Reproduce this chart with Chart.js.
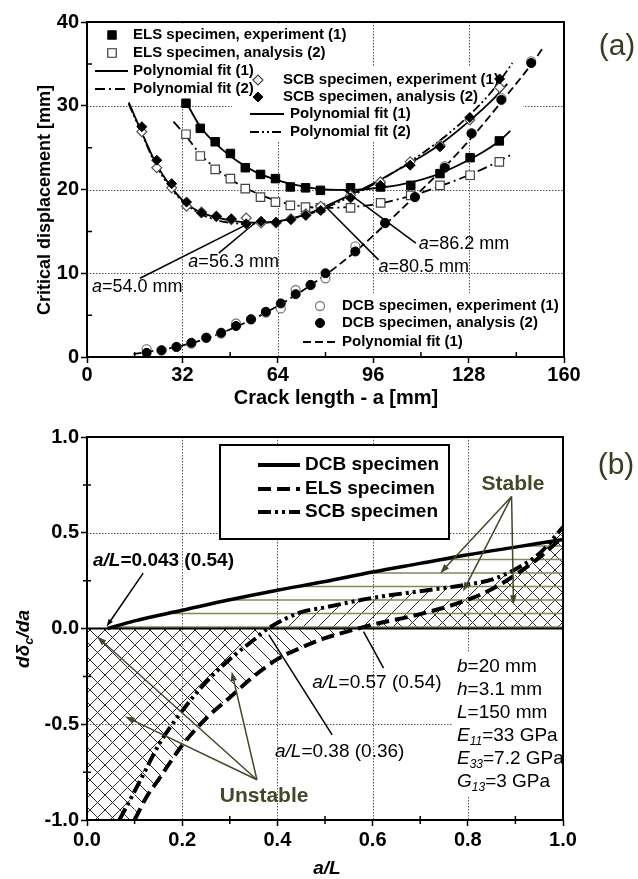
<!DOCTYPE html>
<html>
<head>
<meta charset="utf-8">
<script src="https://cdn.jsdelivr.net/npm/chart.js@4.4.0/dist/chart.umd.min.js"></script>
<style>
  html, body { margin: 0; padding: 0; background: #fff; }
  #wrap { position: relative; width: 638px; height: 879px; }
  canvas { position: absolute; left: 0; }
  #chartA { top: 0; }
  #chartB { top: 420px; }
</style>
</head>
<body>
<div id="wrap">
  <canvas id="chartA" width="638" height="420"></canvas>
  <canvas id="chartB" width="638" height="459"></canvas>
</div>
<script>
// ---- (a) critical displacement [mm] vs crack length a [mm] ----
const elsCrack = [33.2, 38.0, 43.0, 48.1, 53.1, 58.2, 63.2, 68.2, 73.3, 78.3, 88.4, 98.5, 108.6, 118.4, 128.5, 138.3];
const elsExp   = [30.3, 27.3, 25.7, 24.3, 22.6, 21.8, 21.3, 20.3, 20.2, 19.9, 20.2, 20.3, 20.5, 21.9, 23.8, 25.8];
const elsAna   = [26.6, 24.0, 22.4, 21.3, 20.1, 19.1, 18.5, 18.1, 17.9, 17.8, 17.8, 18.4, 19.3, 20.5, 21.7, 23.3];

const scbCrack = [18.4, 23.4, 28.4, 33.4, 38.4, 43.4, 48.4, 53.4, 58.4, 63.4, 68.4, 73.4, 78.4, 88.4, 98.4, 108.4, 118.4, 128.4, 138.4];
const scbExp   = [26.9, 22.6, 20.2, 18.0, 17.3, 16.8, 16.4, 16.6, 16.0, 16.0, 16.5, 17.1, 18.0, 19.3, 20.9, 23.3, 25.3, 28.3, 32.2];
const scbAna   = [27.5, 23.5, 20.7, 18.5, 17.2, 16.8, 16.5, 15.9, 16.2, 16.1, 16.4, 16.9, 17.5, 19.0, 20.5, 22.9, 25.1, 28.6, 33.2];

const dcbCrack = [20, 25, 30, 35, 40, 45, 50, 55, 60, 65, 70, 75, 80, 90, 100, 110, 120, 129, 139, 149];
const dcbExp   = [0.95, 0.8, 1.2, 1.6, 2.3, 2.8, 4.0, 4.5, 5.3, 5.8, 8.0, 8.6, 9.4, 13.2, 16.0, 19.1, 22.8, 26.7, 30.9, 35.3];
const dcbAna   = [0.5, 0.8, 1.2, 1.7, 2.3, 2.9, 3.7, 4.5, 5.4, 6.4, 7.5, 8.6, 10.0, 12.6, 16.0, 19.1, 22.6, 26.7, 30.7, 35.1];

// polynomial fits
const elsFit1X = [33, 38, 44, 50, 56, 64, 72, 80, 86, 92, 100, 108, 116, 124, 132, 138, 142];
const elsFit1Y = [30.6, 27.5, 25.2, 23.5, 22.2, 21.1, 20.4, 20.0, 19.95, 20.0, 20.3, 20.8, 21.6, 22.8, 24.3, 25.7, 27.0];
const elsFit2X = [29, 33, 38, 44, 50, 56, 64, 72, 80, 88, 96, 104, 112, 120, 128, 136, 142];
const elsFit2Y = [28.1, 26.5, 24.2, 22.3, 20.8, 19.7, 18.6, 18.0, 17.8, 17.9, 18.2, 18.8, 19.6, 20.6, 21.7, 23.0, 24.1];
const scbFit1X = [14, 18, 23, 28, 33, 38, 44, 50, 56, 62, 68, 74, 80, 88, 96, 104, 112, 120, 128, 136, 141];
const scbFit1Y = [30.4, 27.1, 23.2, 20.4, 18.4, 17.3, 16.6, 16.2, 16.05, 16.1, 16.5, 17.1, 18.0, 19.3, 20.7, 22.3, 23.9, 25.8, 28.1, 30.7, 32.6];
const scbFit2X = [14, 18, 23, 28, 33, 38, 44, 50, 54, 60, 68, 74, 80, 88, 96, 104, 112, 120, 128, 136, 142.7];
const scbFit2Y = [30.2, 27.0, 23.0, 20.2, 18.3, 17.1, 16.3, 15.95, 15.9, 16.05, 16.45, 17.0, 17.8, 19.1, 20.6, 22.3, 24.2, 26.3, 28.8, 31.8, 35.1];
const dcbFitX  = [15.6, 20, 30, 40, 50, 60, 70, 80, 90, 100, 110, 120, 130, 140, 150, 153.3];
const dcbFitY  = [0.35, 0.6, 1.2, 2.2, 3.6, 5.3, 7.4, 9.8, 12.6, 15.8, 19.2, 22.7, 26.6, 30.9, 35.4, 37.1];

// ---- (b) d(delta_c)/da vs a/L ----
const dcbRatio = [0.043, 0.1, 0.2, 0.3, 0.4, 0.5, 0.6, 0.7, 0.8, 0.9, 1.0];
const dcbSlope = [0, 0.04, 0.095, 0.15, 0.2, 0.245, 0.295, 0.34, 0.385, 0.425, 0.465];
const elsRatio = [0.1, 0.125, 0.15, 0.2, 0.25, 0.3, 0.35, 0.4, 0.45, 0.5, 0.57, 0.6, 0.7, 0.8, 0.85, 0.9, 0.95, 1.0];
const elsSlope = [-1.0, -0.88, -0.79, -0.61, -0.47, -0.36, -0.25, -0.16, -0.10, -0.05, 0, 0.02, 0.075, 0.15, 0.205, 0.28, 0.37, 0.48];
const scbRatio = [0.068, 0.1, 0.125, 0.15, 0.2, 0.25, 0.3, 0.35, 0.38, 0.45, 0.5, 0.6, 0.7, 0.8, 0.85, 0.9, 0.95, 1.0];
const scbSlope = [-1.0, -0.85, -0.73, -0.61, -0.43, -0.28, -0.16, -0.06, 0, 0.085, 0.11, 0.16, 0.195, 0.23, 0.255, 0.31, 0.39, 0.53];

const FONT = '"Liberation Sans", Arial, Helvetica, sans-serif';
const OLIVE = '#46462a';
Chart.defaults.font.family = FONT;
Chart.defaults.color = '#000';

function pts(xs, ys) {
    return xs.map((x, i) => ({ x: x, y: ys[i] }));
}

function richText(ctx, parts, x, y, align) {
    let w = 0;
    parts.forEach(p => { ctx.font = p[1]; w += ctx.measureText(p[0]).width; });
    let cx = align === 'center' ? x - w / 2 : (align === 'right' ? x - w : x);
    ctx.textAlign = 'left';
    ctx.textBaseline = 'middle';
    parts.forEach(p => {
        ctx.font = p[1];
        ctx.fillText(p[0], cx, y + (p[2] || 0));
        cx += ctx.measureText(p[0]).width;
    });
}

function arrow(ctx, x1, y1, x2, y2, color, lw, head) {
    ctx.save();
    ctx.strokeStyle = color;
    ctx.fillStyle = color;
    ctx.lineWidth = lw;
    const a = Math.atan2(y2 - y1, x2 - x1);
    ctx.beginPath();
    ctx.moveTo(x1, y1);
    ctx.lineTo(x2 - Math.cos(a) * head * 0.7, y2 - Math.sin(a) * head * 0.7);
    ctx.stroke();
    if (head > 0) {
        ctx.beginPath();
        ctx.moveTo(x2, y2);
        ctx.lineTo(x2 - head * Math.cos(a - 0.33), y2 - head * Math.sin(a - 0.33));
        ctx.lineTo(x2 - head * Math.cos(a + 0.33), y2 - head * Math.sin(a + 0.33));
        ctx.closePath();
        ctx.fill();
    }
    ctx.restore();
}

function dottedGrid(chart, skipY) {
    const { ctx, chartArea: a, scales: { x, y } } = chart;
    ctx.save();
    ctx.strokeStyle = '#555';
    ctx.lineWidth = 1;
    ctx.setLineDash([1.5, 1.5]);
    ctx.beginPath();
    x.ticks.forEach((t, i) => {
        if (i === 0 || i === x.ticks.length - 1) return;
        const p = Math.round(x.getPixelForValue(t.value)) + 0.5;
        ctx.moveTo(p, a.top); ctx.lineTo(p, a.bottom);
    });
    y.ticks.forEach((t, i) => {
        if (i === 0 || i === y.ticks.length - 1 || skipY.includes(t.value)) return;
        const p = Math.round(y.getPixelForValue(t.value)) + 0.5;
        ctx.moveTo(a.left, p); ctx.lineTo(a.right, p);
    });
    ctx.stroke();
    ctx.restore();
}

function minorTicks(chart, xs, ys, up, down) {
    const { ctx, chartArea: a, scales: { x, y } } = chart;
    ctx.save();
    ctx.strokeStyle = '#000';
    ctx.lineWidth = 1.5;
    ctx.beginPath();
    xs.forEach(v => { const p = x.getPixelForValue(v); ctx.moveTo(p, a.bottom - up); ctx.lineTo(p, a.bottom + down); });
    ys.forEach(v => { const p = y.getPixelForValue(v); ctx.moveTo(a.left - down, p); ctx.lineTo(a.left + up, p); });
    ctx.stroke();
    ctx.restore();
}

function frame(chart) {
    const { ctx, chartArea: a } = chart;
    ctx.save();
    ctx.strokeStyle = '#000';
    ctx.lineWidth = 2;
    ctx.strokeRect(a.left, a.top, a.right - a.left, a.bottom - a.top);
    ctx.restore();
}

function sym(ctx, style, r, x, y, fill, stroke, bw) {
    ctx.save();
    ctx.fillStyle = fill;
    ctx.strokeStyle = stroke;
    ctx.lineWidth = bw;
    Chart.helpers.drawPoint(ctx, { pointStyle: style, radius: r, rotation: 0, borderWidth: bw }, x, y);
    ctx.restore();
}

function sample(ctx, x1, x2, y, dash, lw) {
    ctx.save();
    ctx.strokeStyle = '#000';
    ctx.lineWidth = lw;
    ctx.setLineDash(dash);
    ctx.beginPath();
    ctx.moveTo(x1, y);
    ctx.lineTo(x2, y);
    ctx.stroke();
    ctx.restore();
}

function label(ctx, text, x, y, font, color) {
    ctx.save();
    ctx.font = font;
    ctx.fillStyle = color || '#000';
    ctx.textAlign = 'left';
    ctx.textBaseline = 'middle';
    ctx.fillText(text, x, y);
    ctx.restore();
}

function makeHatch(ctx, kind) {
    const c = document.createElement('canvas');
    if (kind === '-') {
        c.width = 8; c.height = 27;
        const g = c.getContext('2d');
        g.strokeStyle = '#86865c';
        g.lineWidth = 1.3;
        g.beginPath();
        g.moveTo(0, 4.5); g.lineTo(8, 4.5);
        g.moveTo(0, 18); g.lineTo(8, 18);
        g.stroke();
    } else {
        const s = 15;
        c.width = s; c.height = s;
        const g = c.getContext('2d');
        g.strokeStyle = '#2a2a2a';
        g.lineWidth = 1;
        g.beginPath();
        for (let k = -1; k <= 1; k++) {
            if (kind === '/') { g.moveTo(k * s, s); g.lineTo(k * s + s, 0); }
            else { g.moveTo(k * s, 0); g.lineTo(k * s + s, s); }
        }
        g.stroke();
    }
    return ctx.createPattern(c, 'repeat');
}

const tickFont = { size: 20, weight: 'bold' };

// ================= panel (a) =================
const panelA = {
    id: 'panelA',
    beforeDatasetsDraw(chart) {
        const ctx = chart.ctx;
        dottedGrid(chart, []);
        ctx.save();
        ctx.fillStyle = '#fff';
        ctx.fillRect(88, 24, 264, 76);
        ctx.fillRect(232, 67, 291, 75);
        ctx.fillRect(298, 293, 265, 63);
        ctx.restore();

        const f = 'bold 15px ' + FONT;
        // ELS legend
        sym(ctx, 'rect', 6, 112, 35, '#000', '#000', 1);
        sym(ctx, 'rect', 6, 112, 53, '#fff', '#333', 1.2);
        sample(ctx, 95, 128, 71, [], 1.8);
        sample(ctx, 95, 128, 89, [10, 4, 2, 4], 1.8);
        label(ctx, 'ELS specimen, experiment (1)', 133, 35, f);
        label(ctx, 'ELS specimen, analysis (2)', 133, 53, f);
        label(ctx, 'Polynomial fit (1)', 133, 71, f);
        label(ctx, 'Polynomial fit (2)', 133, 89, f);
        // SCB legend
        sym(ctx, 'rectRot', 5, 258, 80, '#fff', '#444', 1.2);
        sym(ctx, 'rectRot', 5, 258, 97, '#000', '#000', 1);
        sample(ctx, 250, 284, 114, [], 1.8);
        sample(ctx, 250, 284, 132, [9, 3, 2, 3, 2, 3], 1.8);
        label(ctx, 'SCB specimen, experiment (1)', 283, 80, f);
        label(ctx, 'SCB specimen, analysis (2)', 283, 97, f);
        label(ctx, 'Polynomial fit (1)', 290, 114, f);
        label(ctx, 'Polynomial fit (2)', 290, 132, f);
        // DCB legend
        sym(ctx, 'circle', 4.5, 320, 306, '#fff', '#808080', 1.3);
        sym(ctx, 'circle', 4.5, 320, 323, '#000', '#000', 1);
        sample(ctx, 303, 338, 342, [8, 4], 1.8);
        label(ctx, 'DCB specimen, experiment (1)', 342, 306, f);
        label(ctx, 'DCB specimen, analysis (2)', 342, 323, f);
        label(ctx, 'Polynomial fit (1)', 342, 342, f);
    },
    afterDatasetsDraw(chart) {
        const { ctx, scales: { x, y } } = chart;
        frame(chart);
        minorTicks(chart, [16, 48, 80, 112, 144], [5, 15, 25, 35], 5, 0);

        const P = (vx, vy) => [x.getPixelForValue(vx), y.getPixelForValue(vy)];
        const it = 'italic 18px ' + FONT, rg = '18px ' + FONT;
        const callouts = [
            { from: [54.0, 15.9], to: [17.8, 9.4], at: [1.7, 8.4], txt: '=54.0 mm' },
            { from: [56.3, 16.0], to: [44.2, 12.4], at: [34.0, 11.3], txt: '=56.3 mm' },
            { from: [86.2, 19.95], to: [110.3, 13.6], at: [111.3, 13.5], txt: '=86.2 mm' },
            { from: [80.5, 17.8], to: [97.8, 11.6], at: [97.8, 10.75], txt: '=80.5 mm' }
        ];
        ctx.save();
        ctx.fillStyle = '#000';
        callouts.forEach(c => {
            const a = P(c.from[0], c.from[1]), b = P(c.to[0], c.to[1]), t = P(c.at[0], c.at[1]);
            arrow(ctx, b[0], b[1], a[0], a[1], '#000', 1.5, 0);
            richText(ctx, [['a', it], [c.txt, rg]], t[0], t[1], 'left');
        });
        ctx.restore();

        // axis titles and panel tag
        ctx.save();
        ctx.fillStyle = '#000';
        richText(ctx, [['Crack length - a [mm]', 'bold 20px ' + FONT]], 336, 398, 'center');
        ctx.translate(45, 200);
        ctx.rotate(-Math.PI / 2);
        richText(ctx, [['Critical displacement [mm]', 'bold 18px ' + FONT]], 0, 0, 'center');
        ctx.restore();
        ctx.save();
        ctx.fillStyle = '#3a3a22';
        richText(ctx, [['(a)', '30px ' + FONT]], 617, 47, 'center');
        ctx.restore();
    }
};

const lineBase = { pointRadius: 0, pointHoverRadius: 0, borderColor: '#000', borderWidth: 1.8, cubicInterpolationMode: 'monotone', fill: false };
const markBase = { showLine: false, borderColor: '#000' };

new Chart(document.getElementById('chartA').getContext('2d'), {
    type: 'line',
    data: {
        datasets: [
            Object.assign({}, markBase, { data: pts(dcbCrack, dcbAna), pointStyle: 'circle', pointRadius: 4.5, pointBackgroundColor: '#000', pointBorderColor: '#000', pointBorderWidth: 1 }),
            Object.assign({}, markBase, { data: pts(dcbCrack, dcbExp), pointStyle: 'circle', pointRadius: 4.5, pointBackgroundColor: '#fff', pointBorderColor: '#808080', pointBorderWidth: 1.3 }),
            Object.assign({}, markBase, { data: pts(scbCrack, scbAna), pointStyle: 'rectRot', pointRadius: 5, pointBackgroundColor: '#000', pointBorderColor: '#000', pointBorderWidth: 1 }),
            Object.assign({}, markBase, { data: pts(scbCrack, scbExp), pointStyle: 'rectRot', pointRadius: 5, pointBackgroundColor: '#fff', pointBorderColor: '#555', pointBorderWidth: 1.2 }),
            Object.assign({}, markBase, { data: pts(elsCrack, elsExp), pointStyle: 'rect', pointRadius: 6, pointBackgroundColor: '#000', pointBorderColor: '#000', pointBorderWidth: 1 }),
            Object.assign({}, markBase, { data: pts(elsCrack, elsAna), pointStyle: 'rect', pointRadius: 6, pointBackgroundColor: '#fff', pointBorderColor: '#444', pointBorderWidth: 1.2 }),
            Object.assign({}, lineBase, { data: pts(elsFit1X, elsFit1Y) }),
            Object.assign({}, lineBase, { data: pts(elsFit2X, elsFit2Y), borderDash: [10, 4, 2, 4] }),
            Object.assign({}, lineBase, { data: pts(scbFit1X, scbFit1Y) }),
            Object.assign({}, lineBase, { data: pts(scbFit2X, scbFit2Y), borderDash: [9, 3, 2, 3, 2, 3] }),
            Object.assign({}, lineBase, { data: pts(dcbFitX, dcbFitY), borderDash: [8, 4] })
        ]
    },
    options: {
        responsive: false,
        animation: false,
        events: [],
        layout: { padding: { left: 0, right: 74, top: 22, bottom: 0 } },
        plugins: { legend: { display: false }, tooltip: { enabled: false } },
        scales: {
            x: {
                type: 'linear', min: 0, max: 160,
                afterFit: s => { s.height = 63; },
                ticks: { stepSize: 32, font: tickFont, padding: 0, maxRotation: 0 },
                grid: { drawOnChartArea: false, tickLength: 6, tickWidth: 1.5, tickColor: '#000' },
                border: { display: false }
            },
            y: {
                type: 'linear', min: 0, max: 40,
                afterFit: s => { s.width = 87; },
                ticks: { stepSize: 10, font: tickFont, padding: 2 },
                grid: { drawOnChartArea: false, tickLength: 6, tickWidth: 1.5, tickColor: '#000' },
                border: { display: false }
            }
        }
    },
    plugins: [panelA]
});

// ================= panel (b) =================
const ctxB = document.getElementById('chartB').getContext('2d');
const hatchFwd = makeHatch(ctxB, '/');
const hatchBack = makeHatch(ctxB, '\\');
const hatchFlat = makeHatch(ctxB, '-');

const panelB = {
    id: 'panelB',
    beforeDatasetsDraw(chart) {
        const { ctx, chartArea: a, scales: { y } } = chart;
        dottedGrid(chart, [0]);
        const z = y.getPixelForValue(0);
        ctx.save();
        ctx.strokeStyle = '#000';
        ctx.lineWidth = 2;
        ctx.beginPath(); ctx.moveTo(a.left, z); ctx.lineTo(a.right, z); ctx.stroke();
        // parameter block background
        ctx.fillStyle = '#fff';
        ctx.fillRect(452, 233, 110, 144);
        // legend box
        ctx.fillRect(220, 25, 229, 94);
        ctx.lineWidth = 2;
        ctx.strokeRect(220, 25, 229, 94);
        ctx.restore();

        sample(ctx, 258, 300, 45, [], 4);
        sample(ctx, 258, 300, 69, [13, 6], 4);
        sample(ctx, 258, 300, 92, [13, 4, 3, 4, 3, 4], 4);
        const f = 'bold 19px ' + FONT;
        label(ctx, 'DCB specimen', 305, 45, f);
        label(ctx, 'ELS specimen', 305, 69, f);
        label(ctx, 'SCB specimen', 305, 92, f);

        const it = 'italic 19px ' + FONT, rg = '19px ' + FONT, sub = 'italic 12px ' + FONT;
        const rows = [
            [['b', it], ['=20 mm', rg]],
            [['h', it], ['=3.1 mm', rg]],
            [['L', it], ['=150 mm', rg]],
            [['E', it], ['11', sub, 6], ['=33 GPa', rg]],
            [['E', it], ['33', sub, 6], ['=7.2 GPa', rg]],
            [['G', it], ['13', sub, 6], ['=3 GPa', rg]]
        ];
        ctx.save();
        ctx.fillStyle = '#000';
        rows.forEach((r, i) => richText(ctx, r, 457, 247 + i * 23, 'left'));
        ctx.restore();
    },
    afterDatasetsDraw(chart) {
        const { ctx, scales: { x, y } } = chart;
        frame(chart);
        minorTicks(chart, [0.1, 0.3, 0.5, 0.7, 0.9], [0.75, 0.25, -0.25, -0.75], 4, 4);
        const P = (vx, vy) => [x.getPixelForValue(vx), y.getPixelForValue(vy)];

        // black callouts
        const bi = 'bold italic 19px ' + FONT, b = 'bold 19px ' + FONT;
        const it = 'italic 19px ' + FONT, rg = '19px ' + FONT;
        ctx.save();
        ctx.fillStyle = '#000';
        let p1 = P(0.118, 0.289), p2 = P(0.041, 0.01);
        arrow(ctx, p1[0], p1[1], p2[0], p2[1], '#000', 1.5, 8);
        let t = P(0.0126, 0.355);
        richText(ctx, [['a/L', bi], ['=0.043 (0.54)', b]], t[0], t[1], 'left');
        p1 = P(0.623, -0.207); p2 = P(0.581, -0.016);
        arrow(ctx, p1[0], p1[1], p2[0], p2[1], '#000', 1.5, 0);
        t = P(0.473, -0.282);
        richText(ctx, [['a/L', it], ['=0.57 (0.54)', rg]], t[0], t[1], 'left');
        p1 = P(0.515, -0.555); p2 = P(0.382, -0.033);
        arrow(ctx, p1[0], p1[1], p2[0], p2[1], '#000', 1.5, 0);
        t = P(0.395, -0.642);
        richText(ctx, [['a/L', it], ['=0.38 (0.36)', rg]], t[0], t[1], 'left');
        ctx.restore();

        // stable / unstable pointers
        const s0 = P(0.892, 0.689);
        [[0.742, 0.289], [0.79, 0.193], [0.896, 0.124]].forEach(q => {
            const e = P(q[0], q[1]);
            arrow(ctx, s0[0], s0[1], e[0], e[1], OLIVE, 1.5, 10);
        });
        const u0 = P(0.357, -0.79);
        [[0.021, -0.042], [0.08, -0.46], [0.304, -0.225]].forEach(q => {
            const e = P(q[0], q[1]);
            arrow(ctx, u0[0], u0[1], e[0], e[1], OLIVE, 1.5, 10);
        });
        ctx.save();
        ctx.fillStyle = OLIVE;
        t = P(0.895, 0.752);
        richText(ctx, [['Stable', 'bold 21px ' + FONT]], t[0], t[1], 'center');
        t = P(0.372, -0.877);
        richText(ctx, [['Unstable', 'bold 21px ' + FONT]], t[0], t[1], 'center');
        ctx.restore();

        // axis titles and panel tag
        ctx.save();
        ctx.fillStyle = '#000';
        richText(ctx, [['a/L', 'bold italic 19px ' + FONT]], 327, 449, 'center');
        ctx.translate(24, 219);
        ctx.rotate(-Math.PI / 2);
        richText(ctx, [['d\u03b4', bi], ['c', 'bold italic 13px ' + FONT, 5], ['/da', bi]], 0, 0, 'center');
        ctx.restore();
        ctx.save();
        ctx.fillStyle = '#3a3a22';
        richText(ctx, [['(b)', '30px ' + FONT]], 616, 46, 'center');
        ctx.restore();
    }
};

const curveBase = { pointRadius: 0, pointHoverRadius: 0, borderColor: '#000', cubicInterpolationMode: 'monotone' };

new Chart(ctxB, {
    type: 'line',
    data: {
        datasets: [
            Object.assign({}, curveBase, { label: 'DCB specimen', data: pts(dcbRatio, dcbSlope), borderWidth: 3.5, fill: 'origin', backgroundColor: hatchFlat }),
            Object.assign({}, curveBase, { label: 'ELS specimen', data: pts(elsRatio, elsSlope), borderWidth: 4, borderDash: [13, 6], fill: 'origin', backgroundColor: hatchBack }),
            Object.assign({}, curveBase, { label: 'SCB specimen', data: pts(scbRatio, scbSlope), borderWidth: 4, borderDash: [13, 4, 3, 4, 3, 4], fill: 'origin', backgroundColor: hatchFwd }),
            // unstable strips left of where each curve enters the plot
            Object.assign({}, curveBase, { data: pts([0, elsRatio[0]], [elsSlope[0], elsSlope[0]]), borderColor: 'rgba(0,0,0,0)', borderWidth: 1, fill: 'origin', backgroundColor: hatchBack }),
            Object.assign({}, curveBase, { data: pts([0, scbRatio[0]], [scbSlope[0], scbSlope[0]]), borderColor: 'rgba(0,0,0,0)', borderWidth: 1, fill: 'origin', backgroundColor: hatchFwd })
        ]
    },
    options: {
        responsive: false,
        animation: false,
        events: [],
        layout: { padding: { left: 0, right: 75, top: 17, bottom: 0 } },
        plugins: { legend: { display: false }, tooltip: { enabled: false }, filler: { drawTime: 'beforeDatasetsDraw' } },
        scales: {
            x: {
                type: 'linear', min: 0, max: 1,
                afterFit: s => { s.height = 59; },
                ticks: { stepSize: 0.2, font: tickFont, padding: 2, maxRotation: 0, callback: v => v.toFixed(1) },
                grid: { drawOnChartArea: false, tickLength: 6, tickWidth: 1.5, tickColor: '#000' },
                border: { display: false }
            },
            y: {
                type: 'linear', min: -1, max: 1,
                afterFit: s => { s.width = 87; },
                ticks: { stepSize: 0.5, font: tickFont, padding: 2, callback: v => v.toFixed(1) },
                grid: { drawOnChartArea: false, tickLength: 6, tickWidth: 1.5, tickColor: '#000' },
                border: { display: false }
            }
        }
    },
    plugins: [panelB]
});
</script>
</body>
</html>
